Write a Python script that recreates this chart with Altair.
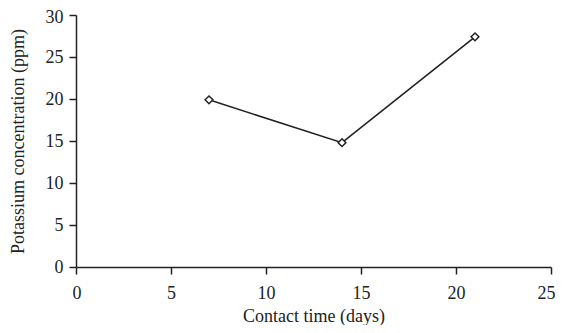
import altair as alt
import pandas as pd

days = [7, 14, 21]
potassium = [19.9, 14.8, 27.4]

df = pd.DataFrame({"days": days, "k": potassium})

FONT = "Liberation Serif"
C = "#222222"

x = alt.X("days:Q", scale=alt.Scale(domain=[0, 25], nice=False, zero=True),
          axis=alt.Axis(values=[0, 5, 10, 15, 20, 25], title="Contact time (days)",
                        grid=False, tickSize=7, labelPadding=10, domainColor=C,
                        tickColor=C, domainWidth=1.5, tickWidth=1.5,
                        labelFlush=True, labelFlushOffset=4,
                        labelFont=FONT, labelFontSize=18, labelColor=C,
                        titleFont=FONT, titleFontSize=18, titleFontWeight="normal", titleColor=C,
                        titleX=237.5, titleY=54, titleBaseline="alphabetic", titleAlign="center"))
y = alt.Y("k:Q", scale=alt.Scale(domain=[0, 30], nice=False),
          axis=alt.Axis(values=[0, 5, 10, 15, 20, 25, 30], title="Potassium concentration (ppm)",
                        grid=False, tickSize=7, labelPadding=6, domainColor=C,
                        tickColor=C, domainWidth=1.5, tickWidth=1.5,
                        labelBaseline={"expr": "datum.value == 30 ? 'top' : 'middle'"},
                        labelOffset={"expr": "datum.value == 30 ? -7 : 0"},
                        labelFont=FONT, labelFontSize=18, labelColor=C,
                        titleFont=FONT, titleFontSize=18, titleFontWeight="normal", titleColor=C,
                        titleX=-57.5, titleY=126, titleAngle=-90, titleBaseline="middle", titleAlign="center"))

line = alt.Chart(df).mark_line(color=C, strokeWidth=1.6).encode(x=x, y=y)
pts = alt.Chart(df).mark_point(shape="diamond", filled=True, fill="white", stroke=C,
                               strokeWidth=1.5, size=60, opacity=1).encode(x=x, y=y)

chart = (line + pts).properties(
    width=475, height=252, autosize=alt.AutoSizeParams(type="none"),
    padding={"left": 68, "top": 7, "right": 4, "bottom": 58},
    background="white"
).configure_view(stroke=None)

chart.save("out.html", embed_options={"renderer": "svg", "actions": False})
